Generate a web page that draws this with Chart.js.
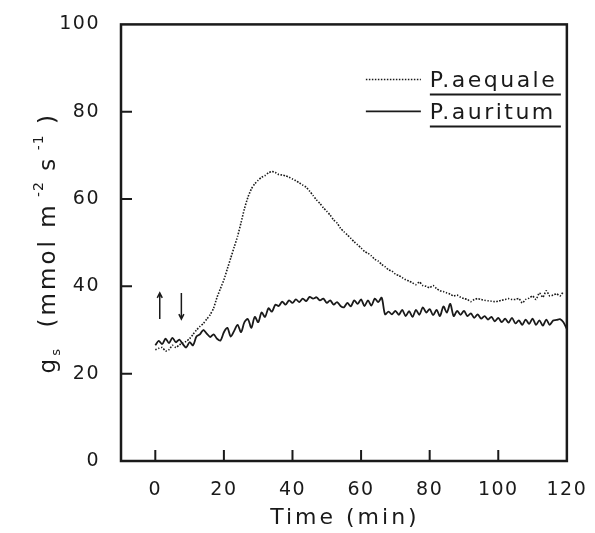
<!DOCTYPE html>
<html>
<head>
<meta charset="utf-8">
<script src="https://cdn.jsdelivr.net/npm/chart.js@4/dist/chart.umd.min.js"></script>
<style>
  html, body { margin: 0; padding: 0; background: #fff; }
  #wrap { width: 595px; height: 533px; }
</style>
</head>
<body>
<div id="wrap"><canvas id="c" width="595" height="533"></canvas></div>
<script>
// time in minutes
const timeAequale = [];
for (let i = 0; i <= 119; i++) timeAequale.push(i);
const timeAuritum = [];
for (let i = 0; i <= 120; i++) timeAuritum.push(i);

// P.aequale, dotted trace (0..119 min)
const gsAequale = [
  25.5, 25.8, 26, 25.2, 25.5, 26.5, 26, 26.6, 27, 27.4,
  28, 29, 30, 30.8, 31.5, 32.5, 33.5, 35, 37.5, 39.5,
  41.5, 44, 46.5, 49, 51.5, 54.6, 57.8, 60.4, 62.3, 63.5,
  64.3, 65, 65.4, 66, 66.3, 66.1, 65.6, 65.5, 65.3, 65,
  64.6, 64.2, 63.7, 63.2, 62.7, 61.8, 60.8, 59.8, 59, 58,
  57.2, 56.3, 55.2, 54.5, 53.3, 52.5, 51.8, 51, 50.2, 49.5,
  48.8, 48, 47.6, 47, 46.2, 45.8, 45, 44.5, 43.8, 43.5,
  42.8, 42.5, 42, 41.5, 41.2, 40.8, 40.4, 41, 40.2, 40,
  39.7, 40.2, 39.5, 39, 38.8, 38.5, 38.2, 37.8, 38, 37.5,
  37.2, 37, 36.5, 37, 37.2, 37, 36.8, 36.7, 36.6, 36.5,
  36.6, 36.8, 37, 37.2, 37, 37, 37.2, 36.2, 37, 37.3,
  37.8, 37, 38.5, 37.5, 39, 37.8, 38, 38.3, 37.8, 38.8
];

// P.auritum, solid trace (0..120 min)
const gsAuritum = [
  26.5, 27.5, 26.8, 28, 27, 28.2, 27.2, 27.8, 26.8, 26,
  27.2, 26.5, 28.5, 29, 30, 29.2, 28.4, 29, 28, 27.6,
  29.5, 30.5, 28.5, 29.8, 31.2, 29.5, 31.8, 32.5, 30.5, 33,
  31.8, 34, 33, 35, 34.2, 35.8, 35.5, 36.5, 35.8, 36.8,
  36.2, 37, 36.4, 37.2, 36.6, 37.6, 37.2, 37.5, 36.8, 37.2,
  36.2, 36.8, 35.8, 36.4, 35.5, 35.2, 36.2, 35.4, 36.8, 36,
  37, 35.5, 36.8, 35.6, 37.2, 36.4, 37.4, 33.6, 34.2, 33.6,
  34.4, 33.5, 34.6, 33.2, 34.3, 33, 34.6, 33.5, 35.2, 34,
  34.8, 33.4, 34.6, 33.2, 35.4, 34, 36, 33.2, 34.4, 33.5,
  34.4, 33.2, 33.8, 32.8, 33.6, 32.6, 33.2, 32.4, 33, 32,
  32.8, 31.8, 32.6, 31.7, 32.8, 31.5, 32.2, 31.2, 32.4, 31.4,
  32.6, 31.2, 32.2, 31, 32.4, 31.2, 32.2, 32.3, 32.5, 31.8,
  30.2
];

const xTicks = [0, 20, 40, 60, 80, 100, 120];
const yTicks = [0, 20, 40, 60, 80, 100];
const seriesNames = ['P.aequale', 'P.auritum'];

// arrows: [time, from, to]
const arrowUp = [1.3, 32.5, 38.5];
const arrowDown = [7.6, 38.5, 32.5];

const INK = '#1a1a1a';
const FONT = '"DejaVu Sans", sans-serif';

const frameAndDecor = {
  id: 'frame-decor',
  beforeDraw(chart) {
    chart.ctx.letterSpacing = '1.5px';
  },
  afterDraw(chart) {
    const { ctx, chartArea: a, scales: { x, y } } = chart;
    ctx.save();
    ctx.strokeStyle = INK;
    ctx.fillStyle = INK;

    // box
    ctx.lineWidth = 2.5;
    ctx.strokeRect(a.left, a.top, a.right - a.left, a.bottom - a.top);

    // inward ticks
    ctx.lineWidth = 2;
    ctx.beginPath();
    xTicks.forEach(v => {
      if (v <= x.min || v >= x.max) return;
      const px = x.getPixelForValue(v);
      ctx.moveTo(px, a.bottom);
      ctx.lineTo(px, a.bottom - 11);
    });
    yTicks.forEach(v => {
      if (v <= y.min || v >= y.max) return;
      const py = y.getPixelForValue(v);
      ctx.moveTo(a.left, py);
      ctx.lineTo(a.left + 11, py);
    });
    ctx.stroke();

    // arrows
    ctx.lineWidth = 1.5;
    [arrowUp, arrowDown].forEach(([t, from, to]) => {
      const px = x.getPixelForValue(t);
      const p0 = y.getPixelForValue(from);
      const p1 = y.getPixelForValue(to);
      const dir = p1 < p0 ? 1 : -1;
      ctx.beginPath();
      ctx.moveTo(px, p0);
      ctx.lineTo(px, p1);
      ctx.moveTo(px - 2.5, p1 + dir * 5);
      ctx.lineTo(px, p1);
      ctx.lineTo(px + 2.5, p1 + dir * 5);
      ctx.stroke();
    });

    // legend
    const lx0 = a.right - 201, lx1 = a.right - 146, tx = a.right - 137, ux = a.right - 6;
    ctx.font = '22px ' + FONT;
    ctx.letterSpacing = '2.5px';
    ctx.textBaseline = 'alphabetic';
    ctx.textAlign = 'left';
    const rows = [
      { y: a.top + 63, dash: [1.5, 1.5], lw: 1.5 },
      { y: a.top + 95, dash: [], lw: 1.8 },
    ];
    rows.forEach((r, i) => {
      ctx.setLineDash(r.dash);
      ctx.lineWidth = r.lw;
      ctx.beginPath();
      ctx.moveTo(lx0, r.y - 8);
      ctx.lineTo(lx1, r.y - 8);
      ctx.stroke();
      ctx.setLineDash([]);
      ctx.fillText(seriesNames[i], tx, r.y);
      ctx.lineWidth = 2;
      ctx.beginPath();
      ctx.moveTo(tx, r.y + 7);
      ctx.lineTo(ux, r.y + 7);
      ctx.stroke();
    });

    // x title
    ctx.font = '22px ' + FONT;
    ctx.letterSpacing = '3px';
    ctx.textAlign = 'center';
    ctx.fillText('Time (min)', (a.left + a.right) / 2 + 1, 524);

    // y title with sub/superscripts, rotated
    const parts = [
      { s: 'g', size: 23, dy: 0 },
      { s: 's', size: 13, dy: 5 },
      { s: '  (mmol m', size: 23, dy: 0 },
      { s: ' -2', size: 14, dy: -12 },
      { s: ' s', size: 23, dy: 0 },
      { s: ' -1', size: 14, dy: -12 },
      { s: ' )', size: 23, dy: 0 },
    ];
    ctx.textAlign = 'left';
    let total = 0;
    parts.forEach(p => {
      ctx.font = p.size + 'px ' + FONT;
      ctx.letterSpacing = (p.size > 15 ? 3 : 1) + 'px';
      p.w = ctx.measureText(p.s).width;
      total += p.w;
    });
    ctx.translate(55, (a.top + a.bottom) / 2 + total / 2);
    ctx.rotate(-Math.PI / 2);
    let cx = 0;
    parts.forEach(p => {
      ctx.font = p.size + 'px ' + FONT;
      ctx.letterSpacing = (p.size > 15 ? 3 : 1) + 'px';
      ctx.fillText(p.s, cx, p.dy);
      cx += p.w;
    });
    ctx.restore();
  },
};

new Chart(document.getElementById('c'), {
  type: 'line',
  plugins: [frameAndDecor],
  data: {
    datasets: [
      {
        label: seriesNames[0],
        data: timeAequale.map((t, i) => ({ x: t, y: gsAequale[i] })),
        borderColor: INK,
        borderWidth: 1.6,
        borderDash: [1.5, 1.5],
        pointRadius: 0,
        tension: 0.2,
        fill: false,
      },
      {
        label: seriesNames[1],
        data: timeAuritum.map((t, i) => ({ x: t, y: gsAuritum[i] })),
        borderColor: INK,
        borderWidth: 1.8,
        pointRadius: 0,
        tension: 0.3,
        fill: false,
      },
    ],
  },
  options: {
    responsive: false,
    animation: false,
    events: [],
    layout: { padding: { left: 0, top: 18, right: 26, bottom: 0 } },
    plugins: { legend: { display: false }, tooltip: { enabled: false } },
    scales: {
      x: {
        type: 'linear',
        min: -10,
        max: 120,
        afterBuildTicks: s => { s.ticks = xTicks.map(v => ({ value: v })); },
        afterFit: s => { s.height = 72; },
        grid: { display: false },
        border: { display: false },
        ticks: { color: INK, font: { family: FONT, size: 19 }, padding: 10, maxRotation: 0 },
      },
      y: {
        min: 0,
        max: 100,
        afterBuildTicks: s => { s.ticks = yTicks.map(v => ({ value: v })); },
        afterFit: s => { s.width = 121; },
        grid: { display: false },
        border: { display: false },
        ticks: { color: INK, font: { family: FONT, size: 19 }, padding: 13 },
      },
    },
  },
});
</script>
</body>
</html>
